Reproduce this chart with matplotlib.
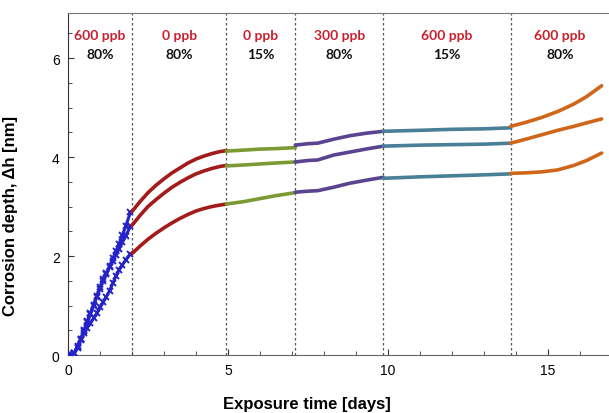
import matplotlib
matplotlib.use("Agg")
import matplotlib.pyplot as plt
from matplotlib.ticker import MultipleLocator

# phase boundaries (days) and condition labels
bounds = [0.0, 2.0, 4.95, 7.1, 9.85, 13.83, 16.9]
conc_labels = ["600 ppb", "0 ppb", "0 ppb", "300 ppb", "600 ppb", "600 ppb"]
rh_labels = ["80%", "80%", "15%", "80%", "15%", "80%"]

# phase 1: 600 ppb / 80%
t_p1 = [0.0, 0.1, 0.2, 0.3, 0.4, 0.5, 0.6, 0.7, 0.8, 0.9, 1.0,
        1.1, 1.2, 1.3, 1.4, 1.5, 1.6, 1.7, 1.8, 1.95]
top_p1 = [0.0, 0.0, 0.05, 0.18, 0.33, 0.5, 0.68, 0.85, 1.02, 1.2, 1.37,
          1.54, 1.66, 1.8, 1.95, 2.1, 2.25, 2.42, 2.6, 2.88]
mid_p1 = [0.0, 0.0, 0.04, 0.17, 0.32, 0.48, 0.66, 0.83, 1.0, 1.17, 1.34,
          1.5, 1.63, 1.78, 1.9, 2.03, 2.15, 2.28, 2.4, 2.6]
low_p1 = [0.0, 0.0, 0.04, 0.15, 0.3, 0.44, 0.55, 0.64, 0.74, 0.84, 0.96,
          1.07, 1.18, 1.3, 1.45, 1.6, 1.72, 1.82, 1.92, 2.04]

# phase 2: 0 ppb / 80%
t_p2 = [2.0, 2.25, 2.5, 2.75, 3.0, 3.25, 3.5, 3.75, 4.0, 4.25, 4.5, 4.75, 4.95]
top_p2 = [2.9, 3.1, 3.28, 3.43, 3.56, 3.68, 3.78, 3.88, 3.96, 4.02, 4.07, 4.11, 4.13]
mid_p2 = [2.62, 2.82, 3.0, 3.14, 3.27, 3.39, 3.49, 3.58, 3.66, 3.72, 3.77, 3.81, 3.83]
low_p2 = [2.05, 2.2, 2.34, 2.46, 2.57, 2.67, 2.76, 2.84, 2.91, 2.96, 3.0, 3.03, 3.05]

# phase 3: 0 ppb / 15%
t_p3 = [4.95, 5.5, 6.0, 6.5, 7.1]
top_p3 = [4.12, 4.14, 4.16, 4.17, 4.19]
mid_p3 = [3.82, 3.84, 3.86, 3.88, 3.9]
low_p3 = [3.05, 3.1, 3.16, 3.22, 3.28]

# phase 4: 300 ppb / 80%
t_p4 = [7.1, 7.5, 7.8, 8.3, 8.8, 9.3, 9.85]
top_p4 = [4.24, 4.27, 4.28, 4.36, 4.43, 4.48, 4.52]
mid_p4 = [3.9, 3.93, 3.94, 4.04, 4.1, 4.16, 4.22]
low_p4 = [3.29, 3.31, 3.32, 3.39, 3.47, 3.53, 3.59]

# phase 5: 600 ppb / 15%
t_p5 = [9.85, 11.0, 12.0, 13.0, 13.83]
top_p5 = [4.52, 4.54, 4.56, 4.57, 4.59]
mid_p5 = [4.22, 4.24, 4.25, 4.26, 4.28]
low_p5 = [3.57, 3.6, 3.62, 3.64, 3.66]

# phase 6: 600 ppb / 80%
t_p6 = [13.83, 14.3, 14.8, 15.3, 15.8, 16.2, 16.67]
top_p6 = [4.62, 4.7, 4.8, 4.92, 5.07, 5.22, 5.44]
mid_p6 = [4.28, 4.36, 4.45, 4.54, 4.62, 4.69, 4.77]
low_p6 = [3.67, 3.68, 3.7, 3.74, 3.83, 3.93, 4.08]

phase_colors = ["#2323c8", "#a31b1b", "#7b9a33", "#5a4490", "#4a7f98", "#d0661a"]

phases = [
    (t_p1, [top_p1, mid_p1, low_p1]),
    (t_p2, [top_p2, mid_p2, low_p2]),
    (t_p3, [top_p3, mid_p3, low_p3]),
    (t_p4, [top_p4, mid_p4, low_p4]),
    (t_p5, [top_p5, mid_p5, low_p5]),
    (t_p6, [top_p6, mid_p6, low_p6]),
]

fig = plt.figure(figsize=(6.09, 4.14), dpi=100)
ax = fig.add_axes([68 / 609, 1 - 356 / 414, 1 - 68 / 609, (356 - 14) / 414])

for k, (t, curves) in enumerate(phases):
    for y in curves:
        if k == 0:
            # first phase drawn as marker trace
            ax.plot(t, y, color=phase_colors[k], linewidth=2.2, marker="x",
                    markersize=4.5, markeredgewidth=1.4, zorder=3)
        else:
            ax.plot(t, y, color=phase_colors[k], linewidth=2.6,
                    solid_capstyle="round", zorder=3)

for b in bounds[1:-1]:
    ax.axvline(b, color="#555555", linestyle=(0, (2, 2)), linewidth=0.9, zorder=1)

for k in range(len(conc_labels)):
    xc = 0.5 * (bounds[k] + bounds[k + 1])
    ax.text(xc, 6.46, conc_labels[k], color="#c8202e", ha="center", va="center",
            fontsize=10, fontweight="bold", family="Lato")
    ax.text(xc, 6.08, rh_labels[k], color="#111111", ha="center", va="center",
            fontsize=10, fontweight="bold", family="Lato")

ax.set_xlim(0, 16.9)
ax.set_ylim(0, 6.91)
ax.set_xticks([0, 5, 10, 15])
ax.set_yticks([0, 2, 4, 6])
ax.xaxis.set_minor_locator(MultipleLocator(1))
ax.yaxis.set_minor_locator(MultipleLocator(0.5))
ax.tick_params(direction="in", which="both", top=False, right=False,
               labelsize=10, pad=6, color="#333333")
ax.tick_params(which="major", length=4)
ax.tick_params(which="minor", length=3)
for lab in ax.get_xticklabels() + ax.get_yticklabels():
    lab.set_family("Liberation Sans")

ax.spines["right"].set_visible(False)
ax.spines["top"].set_color("#777777")
ax.spines["bottom"].set_color("#666666")
ax.spines["left"].set_color("#333333")

ax.set_xlabel("Exposure time [days]", fontsize=12, fontweight="bold",
              family="Liberation Sans")
ax.set_ylabel("Corrosion depth, \u0394h [nm]", fontsize=12, fontweight="bold",
              family="Liberation Sans")
ax.xaxis.set_label_coords((307 - 68) / 541, -(397 - 356) / 342)
ax.yaxis.set_label_coords(-(68 - 18) / 541, (356 - 216) / 342)

fig.savefig("out.png", dpi=100)
